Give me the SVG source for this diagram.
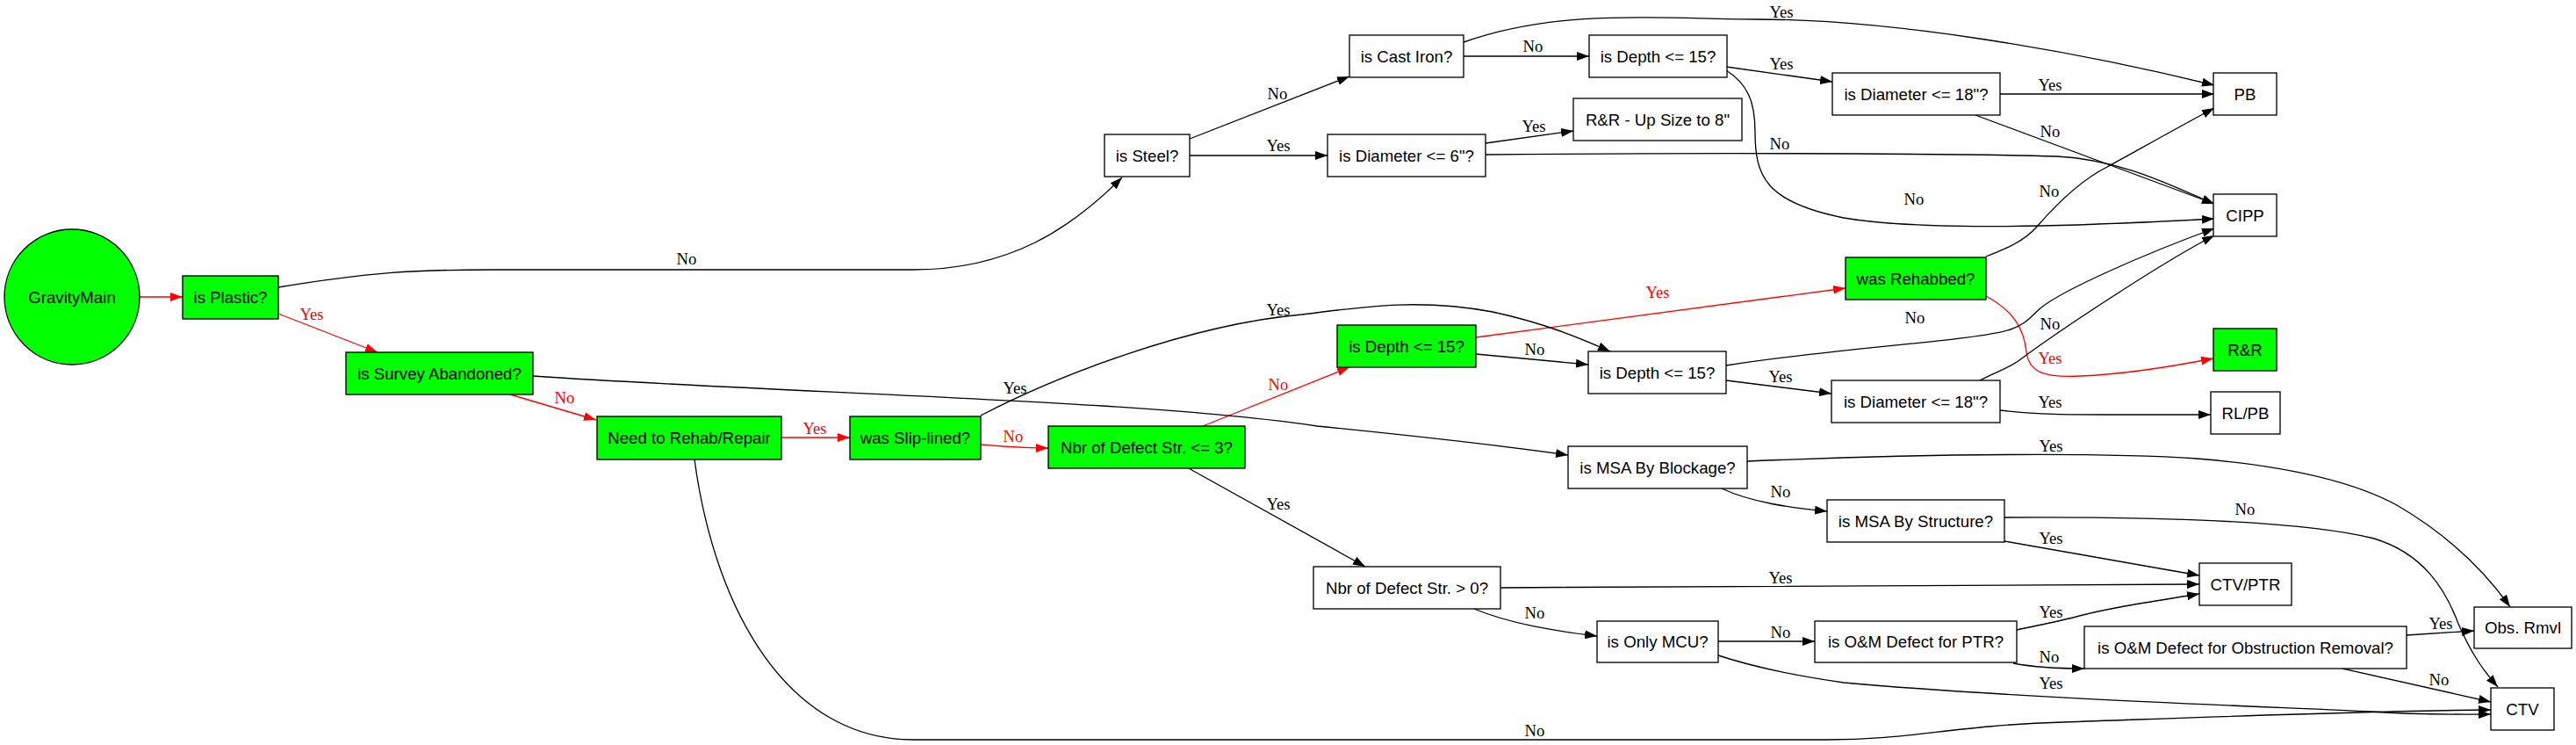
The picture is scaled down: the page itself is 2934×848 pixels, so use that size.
<svg xmlns="http://www.w3.org/2000/svg" width="2934" height="848" viewBox="0 0 2934 848">
<style>
.n rect,.n circle{stroke:#000;stroke-width:1.33;fill:#fff}
.g rect,.g circle{fill:#00ff00}
.n text{font-family:"Liberation Sans",Arial,sans-serif;font-size:18.67px;text-anchor:middle;fill:#000}
.e path{fill:none;stroke:#000;stroke-width:1.33;marker-end:url(#ab)}
.e path.r{stroke:#ff0000;marker-end:url(#ar)}
.l text{font-family:"Liberation Serif","Times New Roman",serif;font-size:18.67px;text-anchor:middle;fill:#000}
.l text.r{fill:#ff0000}
</style>
<defs>
<marker id="ab" viewBox="0 0 14 10" refX="14" refY="5" markerWidth="14" markerHeight="10" markerUnits="userSpaceOnUse" orient="auto"><path d="M0,0 L14,5 L0,10 z" fill="#000"/></marker>
<marker id="ar" viewBox="0 0 14 10" refX="14" refY="5" markerWidth="14" markerHeight="10" markerUnits="userSpaceOnUse" orient="auto"><path d="M0,0 L14,5 L0,10 z" fill="#ff0000"/></marker>
</defs>
<rect width="2934" height="848" fill="#fff"/>
<g id="edges" class="e">
<path class="r" d="M159,338 L208,338"/>
<path class="r" d="M317,357 L430,401"/>
<path class="r" d="M581,449 L679,478"/>
<path class="r" d="M890,498 L968,498"/>
<path class="r" d="M1117,506 C1140,508 1170,510 1194,510"/>
<path class="r" d="M1370,485 L1537,418"/>
<path class="r" d="M1681,384 L2102,328"/>
<path class="r" d="M2262,337 C2295,355 2305,375 2308,400 C2311,425 2330,430 2370,428 C2420,426 2480,416 2521,408"/>
<path d="M317,327 C420,310 470,307 560,307 L1040,307 C1150,307 1220,260 1278,202"/>
<path d="M1355,158 L1537,87"/>
<path d="M1355,177 L1512,177"/>
<path d="M1667,64 L1810,64"/>
<path d="M1667,48 C1780,8 1900,22 2000,22 C2150,22 2350,55 2522,97"/>
<path d="M1966,76 L2087,93"/>
<path d="M1966,80 C1990,95 1999,115 1999,150 C1999,200 2010,230 2100,248 C2170,260 2300,258 2367,256 C2420,254 2470,252 2522,249"/>
<path d="M2278,107 L2522,107"/>
<path d="M2250,131 L2522,232"/>
<path d="M1692,163 L1792,149"/>
<path d="M1692,176 C1900,174 2200,174 2343,178 C2420,182 2480,215 2522,232"/>
<path d="M2262,292 C2285,283 2305,275 2320,258 C2340,235 2370,205 2400,190 C2440,168 2490,140 2522,123"/>
<path d="M1117,473 C1200,430 1350,370 1483,358 C1560,348 1620,340 1700,355 C1760,368 1800,385 1834,400"/>
<path d="M1681,403 L1809,415"/>
<path d="M1966,416 C2100,395 2250,388 2290,375 C2310,368 2315,358 2325,350 C2350,330 2440,290 2522,260"/>
<path d="M1966,433 L2086,448"/>
<path d="M2255,433 C2270,425 2290,418 2300,410 C2340,380 2460,300 2522,268"/>
<path d="M2278,467 C2320,472 2360,472 2400,472 L2518,472"/>
<path d="M607,428 C900,448 1300,455 1500,485 C1650,500 1730,510 1786,518"/>
<path d="M1352,532 L1555,645"/>
<path d="M791,523 C815,700 900,842 1040,842 L2080,842 C2180,842 2220,826 2350,822 C2550,815 2700,809 2837,808"/>
<path d="M1990,525 C2200,516 2400,515 2502,522 C2600,530 2680,548 2730,575 C2790,610 2830,650 2859,691"/>
<path d="M1961,556 C1995,572 2040,578 2081,582"/>
<path d="M2283,589 C2450,588 2620,592 2704,613 C2760,630 2785,670 2800,710 C2815,745 2830,765 2845,782"/>
<path d="M2283,616 L2505,655"/>
<path d="M1709,669 C2000,667 2300,666 2505,665"/>
<path d="M1679,693 C1720,710 1770,718 1819,724"/>
<path d="M1957,730 L2067,730"/>
<path d="M1957,746 C2000,760 2050,770 2100,777 C2300,795 2600,805 2700,810 C2760,814 2800,813 2837,813"/>
<path d="M2297,717 C2320,712 2345,707 2361,703 C2400,692 2450,685 2505,676"/>
<path d="M2293,755 C2320,760 2350,761 2374,761"/>
<path d="M2741,723 L2818,718"/>
<path d="M2668,761 L2837,799"/>
</g>
<g id="edge-labels" class="l">
<text class="r" x="355" y="364">Yes</text>
<text class="r" x="643" y="459">No</text>
<text class="r" x="928" y="494">Yes</text>
<text class="r" x="1154" y="503">No</text>
<text class="r" x="1456" y="444">No</text>
<text class="r" x="1888" y="339">Yes</text>
<text class="r" x="2335" y="414">Yes</text>
<text x="782" y="301">No</text>
<text x="1455" y="113">No</text>
<text x="1456" y="172">Yes</text>
<text x="1746" y="59">No</text>
<text x="2029" y="20">Yes</text>
<text x="2029" y="79">Yes</text>
<text x="2180" y="233">No</text>
<text x="2335" y="103">Yes</text>
<text x="2335" y="156">No</text>
<text x="1747" y="150">Yes</text>
<text x="2027" y="170">No</text>
<text x="2334" y="224">No</text>
<text x="1456" y="359">Yes</text>
<text x="1748" y="404">No</text>
<text x="2181" y="368">No</text>
<text x="2028" y="435">Yes</text>
<text x="2335" y="375">No</text>
<text x="2335" y="464">Yes</text>
<text x="1156" y="448">Yes</text>
<text x="1456" y="580">Yes</text>
<text x="1748" y="838">No</text>
<text x="2336" y="514">Yes</text>
<text x="2028" y="566">No</text>
<text x="2557" y="586">No</text>
<text x="2336" y="619">Yes</text>
<text x="2028" y="664">Yes</text>
<text x="1748" y="704">No</text>
<text x="2028" y="726">No</text>
<text x="2336" y="784">Yes</text>
<text x="2336" y="703">Yes</text>
<text x="2334" y="754">No</text>
<text x="2780" y="716">Yes</text>
<text x="2778" y="780">No</text>
</g>
<g id="GravityMain" class="n g"><circle cx="82" cy="338" r="77"/><text x="82" y="345">GravityMain</text></g>
<g id="isPlastic" class="n g"><rect x="208" y="314" width="109" height="49"/><text x="262.5" y="345">is Plastic?</text></g>
<g id="isSurveyAbandoned" class="n g"><rect x="394" y="401" width="213" height="48"/><text x="500.5" y="432">is Survey Abandoned?</text></g>
<g id="needRehab" class="n g"><rect x="680" y="474" width="210" height="49"/><text x="785" y="505">Need to Rehab/Repair</text></g>
<g id="wasSlipLined" class="n g"><rect x="968" y="474" width="149" height="49"/><text x="1042.5" y="505">was Slip-lined?</text></g>
<g id="nbrDefectLE3" class="n g"><rect x="1194" y="485" width="224" height="48"/><text x="1306" y="516">Nbr of Defect Str. &lt;= 3?</text></g>
<g id="nbrDefectGT0" class="n"><rect x="1496" y="645" width="213" height="48"/><text x="1602.5" y="676">Nbr of Defect Str. &gt; 0?</text></g>
<g id="isOnlyMCU" class="n"><rect x="1819" y="707" width="138" height="47"/><text x="1888" y="737">is Only MCU?</text></g>
<g id="isOMPTR" class="n"><rect x="2067" y="707" width="230" height="47"/><text x="2182" y="737">is O&amp;M Defect for PTR?</text></g>
<g id="isMSABlockage" class="n"><rect x="1786" y="508" width="204" height="48"/><text x="1888" y="539">is MSA By Blockage?</text></g>
<g id="isMSAStructure" class="n"><rect x="2081" y="569" width="202" height="48"/><text x="2182" y="600">is MSA By Structure?</text></g>
<g id="isOMObstruction" class="n"><rect x="2374" y="713" width="367" height="48"/><text x="2557.5" y="744">is O&amp;M Defect for Obstruction Removal?</text></g>
<g id="CTVPTR" class="n"><rect x="2505" y="641" width="105" height="48"/><text x="2557.5" y="672">CTV/PTR</text></g>
<g id="ObsRmvl" class="n"><rect x="2818" y="691" width="111" height="47"/><text x="2873.5" y="721">Obs. Rmvl</text></g>
<g id="CTV" class="n"><rect x="2837" y="783" width="72" height="48"/><text x="2873" y="814">CTV</text></g>
<g id="isDepthG" class="n g"><rect x="1523" y="370" width="158" height="48"/><text x="1602" y="401">is Depth &lt;= 15?</text></g>
<g id="isDepthM" class="n"><rect x="1809" y="400" width="157" height="48"/><text x="1887.5" y="431">is Depth &lt;= 15?</text></g>
<g id="wasRehabbed" class="n g"><rect x="2102" y="293" width="160" height="48"/><text x="2182" y="324">was Rehabbed?</text></g>
<g id="isDiamL" class="n"><rect x="2086" y="433" width="192" height="48"/><text x="2182" y="464">is Diameter &lt;= 18"?</text></g>
<g id="RR" class="n g"><rect x="2521" y="374" width="72" height="48"/><text x="2557" y="405">R&amp;R</text></g>
<g id="RLPB" class="n"><rect x="2518" y="446" width="79" height="48"/><text x="2557.5" y="477">RL/PB</text></g>
<g id="CIPP" class="n"><rect x="2521" y="221" width="72" height="48"/><text x="2557" y="252">CIPP</text></g>
<g id="PB" class="n"><rect x="2521" y="83" width="72" height="48"/><text x="2557" y="114">PB</text></g>
<g id="isDiamU" class="n"><rect x="2087" y="83" width="191" height="48"/><text x="2182.5" y="114">is Diameter &lt;= 18"?</text></g>
<g id="isDepthT" class="n"><rect x="1810" y="40" width="157" height="48"/><text x="1888.5" y="71">is Depth &lt;= 15?</text></g>
<g id="isCastIron" class="n"><rect x="1537" y="40" width="130" height="48"/><text x="1602" y="71">is Cast Iron?</text></g>
<g id="RRUpSize" class="n"><rect x="1792" y="112" width="192" height="48"/><text x="1888" y="143">R&amp;R - Up Size to 8"</text></g>
<g id="isDiam6" class="n"><rect x="1512" y="153" width="180" height="48"/><text x="1602" y="184">is Diameter &lt;= 6"?</text></g>
<g id="isSteel" class="n"><rect x="1258" y="153" width="97" height="48"/><text x="1306.5" y="184">is Steel?</text></g>
</svg>
